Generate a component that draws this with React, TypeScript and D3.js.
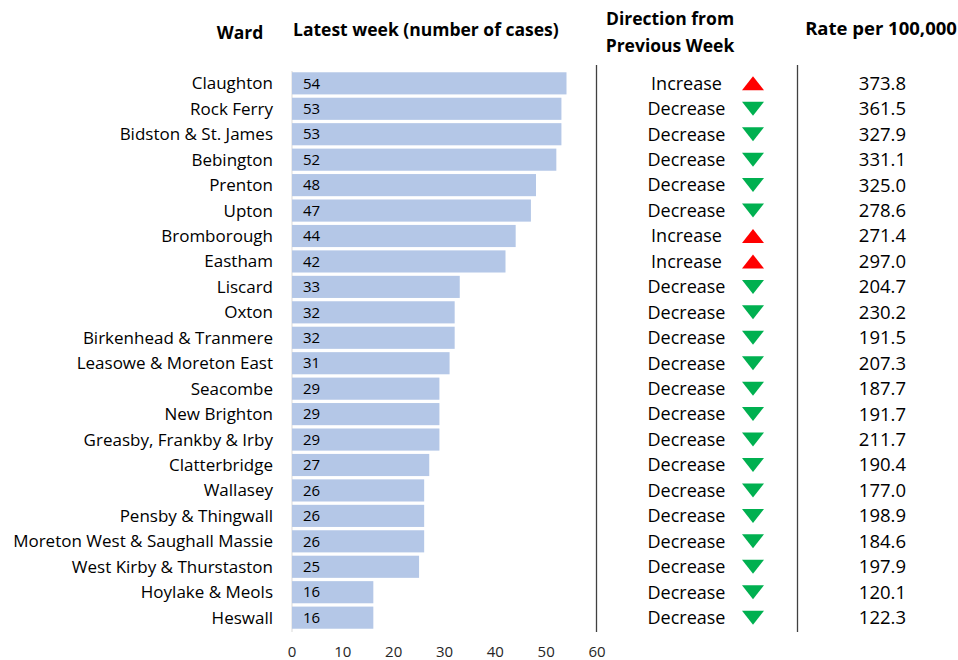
import React from "react";
import * as d3 from "d3";

const wards = [
  "Claughton", "Rock Ferry", "Bidston & St. James", "Bebington", "Prenton", "Upton",
  "Bromborough", "Eastham", "Liscard", "Oxton", "Birkenhead & Tranmere",
  "Leasowe & Moreton East", "Seacombe", "New Brighton", "Greasby, Frankby & Irby",
  "Clatterbridge", "Wallasey", "Pensby & Thingwall", "Moreton West & Saughall Massie",
  "West Kirby & Thurstaston", "Hoylake & Meols", "Heswall"
];
const cases = [54, 53, 53, 52, 48, 47, 44, 42, 33, 32, 32, 31, 29, 29, 29, 27, 26, 26, 26, 25, 16, 16];
const direction = [
  "Increase", "Decrease", "Decrease", "Decrease", "Decrease", "Decrease", "Increase", "Increase",
  "Decrease", "Decrease", "Decrease", "Decrease", "Decrease", "Decrease", "Decrease", "Decrease",
  "Decrease", "Decrease", "Decrease", "Decrease", "Decrease", "Decrease"
];
const rates = [
  373.8, 361.5, 327.9, 331.1, 325.0, 278.6, 271.4, 297.0, 204.7, 230.2, 191.5,
  207.3, 187.7, 191.7, 211.7, 190.4, 177.0, 198.9, 184.6, 197.9, 120.1, 122.3
];
const xTicks = [0, 10, 20, 30, 40, 50, 60];

const font = "'Open Sans', sans-serif";

// triangle pointing up, centred on 0,0
const triPath = d3.line()([[-11, 7], [11, 7], [0, -7]]) + "Z";

const App = () => {
  const width = 958, height = 660;
  const x = d3.scaleLinear().domain([0, 60]).range([292, 597]);
  const y = d3.scaleBand().domain(wards).range([71, 630]).paddingInner(0.13).paddingOuter(0.05);
  const bw = y.bandwidth();
  const cy = (w: string) => y(w)! + bw / 2;

  return (
    <svg width={width} height={height} style={{ position: "absolute", left: 0, top: 0 }}>
      <rect width={width} height={height} fill="#fff" />
      {/* headers */}
      <g fontFamily={font} fontWeight="bold" fontSize="17.5px" fill="#000">
        <text x={240} y={39} textAnchor="middle">Ward</text>
        <text x={293} y={36}>Latest week (number of cases)</text>
        <text x={670} y={25} textAnchor="middle">Direction from</text>
        <text x={670} y={52} textAnchor="middle">Previous Week</text>
        <text x={881} y={35} textAnchor="middle" fontSize="18.5px">Rate per 100,000</text>
      </g>
      {/* y axis line */}
      <line x1={292} x2={292} y1={71} y2={632} stroke="#d9d9d9" />
      {/* bars */}
      {wards.map((w, i) => (
        <g key={w}>
          <rect x={x(0)} y={y(w)} width={x(cases[i]) - x(0)} height={bw} fill="#b4c7e7" />
          <text x={x(0) + 11} y={cy(w)} dy="0.35em" fontFamily={font} fontSize="15px" fill="#000">
            {cases[i]}
          </text>
          <text x={273} y={cy(w)} dy="0.35em" textAnchor="end" fontFamily={font} fontSize="17px" fill="#000">
            {w}
          </text>
          <text x={686.5} y={cy(w)} dy="0.35em" textAnchor="middle" fontFamily={font} fontSize="18px" fill="#000">
            {direction[i]}
          </text>
          <path
            d={triPath}
            transform={`translate(753,${cy(w)}) rotate(${direction[i] === "Increase" ? 0 : 180})`}
            fill={direction[i] === "Increase" ? "#ff0000" : "#00b050"}
          />
          <text x={906} y={cy(w)} dy="0.35em" textAnchor="end" fontFamily={font} fontSize="18.5px" fill="#000">
            {rates[i].toFixed(1)}
          </text>
        </g>
      ))}
      {/* separators */}
      <line x1={596.5} x2={596.5} y1={65} y2={632} stroke="#404040" strokeWidth={1.3} />
      <line x1={797.5} x2={797.5} y1={65} y2={632} stroke="#404040" strokeWidth={1.3} />
      {/* x axis ticks */}
      {xTicks.map(t => (
        <text key={t} x={x(t)} y={657} textAnchor="middle" fontFamily={font} fontSize="15px" fill="#262626">
          {t}
        </text>
      ))}
    </svg>
  );
};

export default App;
